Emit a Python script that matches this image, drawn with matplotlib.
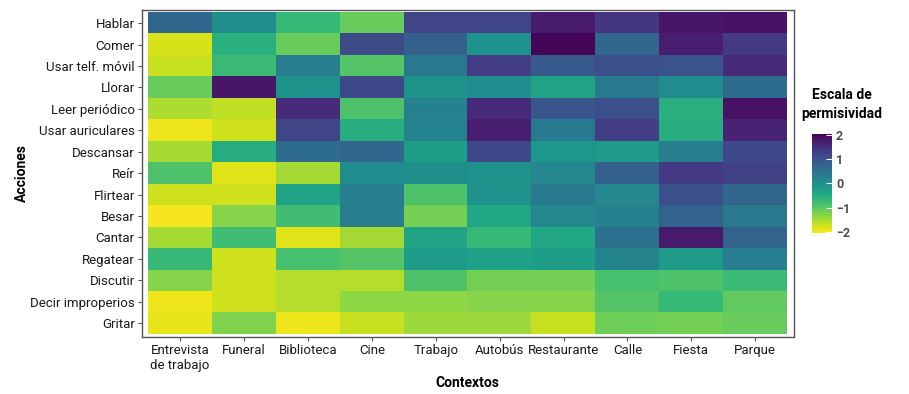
import numpy as np
import matplotlib.pyplot as plt

plt.rcParams['font.family'] = ['Roboto', 'DejaVu Sans']

acciones = ['Hablar', 'Comer', 'Usar telf. móvil', 'Llorar', 'Leer periódico',
            'Usar auriculares', 'Descansar', 'Reír', 'Flirtear', 'Besar',
            'Cantar', 'Regatear', 'Discutir', 'Decir improperios', 'Gritar']
contextos = ['Entrevista\nde trabajo', 'Funeral', 'Biblioteca', 'Cine', 'Trabajo',
             'Autobús', 'Restaurante', 'Calle', 'Fiesta', 'Parque']

# permisividad por accion (fila) y contexto (columna)
hablar = [0.7, 0.0, -0.7, -1.1, 1.2, 1.2, 1.75, 1.4, 1.8, 1.85]
comer = [-1.8, -0.55, -1.1, 1.1, 0.8, -0.05, 2.0, 0.7, 1.7, 1.35]
usar_movil = [-1.7, -0.75, 0.3, -0.95, 0.4, 1.3, 0.9, 1.05, 1.0, 1.55]
llorar = [-1.1, 1.8, -0.05, 1.15, -0.05, 0.05, -0.35, 0.4, 0.05, 0.6]
leer = [-1.55, -1.65, 1.55, -0.9, 0.25, 1.55, 0.95, 1.05, -0.55, 1.85]
auriculares = [-1.95, -1.75, 1.2, -0.5, 0.2, 1.7, 0.35, 1.3, -0.5, 1.65]
descansar = [-1.5, -0.5, 0.6, 0.7, -0.25, 1.15, -0.1, -0.2, 0.3, 1.15]
reir = [-0.9, -1.85, -1.5, 0.05, 0.0, -0.05, 0.15, 0.8, 1.35, 1.25]
flirtear = [-1.75, -1.75, -0.35, 0.3, -0.9, -0.05, 0.4, 0.15, 1.05, 0.7]
besar = [-2.0, -1.3, -0.8, 0.3, -1.2, -0.4, 0.15, 0.25, 0.75, 0.4]
cantar = [-1.5, -0.8, -1.85, -1.5, -0.35, -0.7, -0.4, 0.5, 1.75, 0.75]
regatear = [-0.7, -1.75, -0.85, -0.95, -0.2, -0.3, -0.25, 0.2, -0.2, 0.3]
discutir = [-1.3, -1.75, -1.6, -1.6, -0.9, -1.2, -1.2, -0.85, -0.9, -0.75]
improperios = [-1.95, -1.75, -1.6, -1.35, -1.35, -1.3, -1.3, -0.95, -0.7, -1.05]
gritar = [-1.9, -1.25, -1.95, -1.7, -1.45, -1.45, -1.7, -1.15, -1.2, -1.1]

valores = np.array([hablar, comer, usar_movil, llorar, leer, auriculares, descansar,
                    reir, flirtear, besar, cantar, regatear, discutir, improperios, gritar])

fig = plt.figure(figsize=(9.09, 3.94), dpi=100)
ax = fig.add_axes([0.156, 0.145, 0.717, 0.829])

im = ax.imshow(valores, cmap='viridis_r', vmin=-2.05, vmax=2.05, aspect='auto',
               interpolation='nearest')
ax.set_xlim(-0.6, 9.6)
ax.set_ylim(14.64, -0.6)

ax.set_xticks(range(len(contextos)))
ax.set_xticklabels(contextos, fontsize=9.5, color='#1a1a1a')
ax.set_yticks(range(len(acciones)))
ax.set_yticklabels(acciones, fontsize=9.5, color='#1a1a1a')
ax.tick_params(length=3, width=0.8, color='#555555', pad=2)
for s in ax.spines.values():
    s.set_color('#555555')
    s.set_linewidth(1.0)

ax.set_xlabel('Contextos', fontsize=10, fontweight='bold', labelpad=3)
ax.set_ylabel('Acciones', fontsize=10, fontweight='bold', labelpad=1)

# barra de color
cax = fig.add_axes([0.893, 0.409, 0.022, 0.251])
cb = fig.colorbar(im, cax=cax, ticks=[-2, -1, 0, 1, 2])
cb.outline.set_visible(False)
cax.tick_params(length=4, width=0.8, color='white', direction='in', labelsize=9,
                labelcolor='#4d4d4d', pad=3)
cax.set_yticklabels(['\u22122', '\u22121', '0', '1', '2'])
for t in cax.get_yticklabels():
    t.set_fontweight('bold')
fig.text(0.926, 0.735, 'Escala de\npermisividad', ha='center', va='center',
         fontsize=10, fontweight='bold', linespacing=1.4)

plt.savefig('out.png', dpi=100)
